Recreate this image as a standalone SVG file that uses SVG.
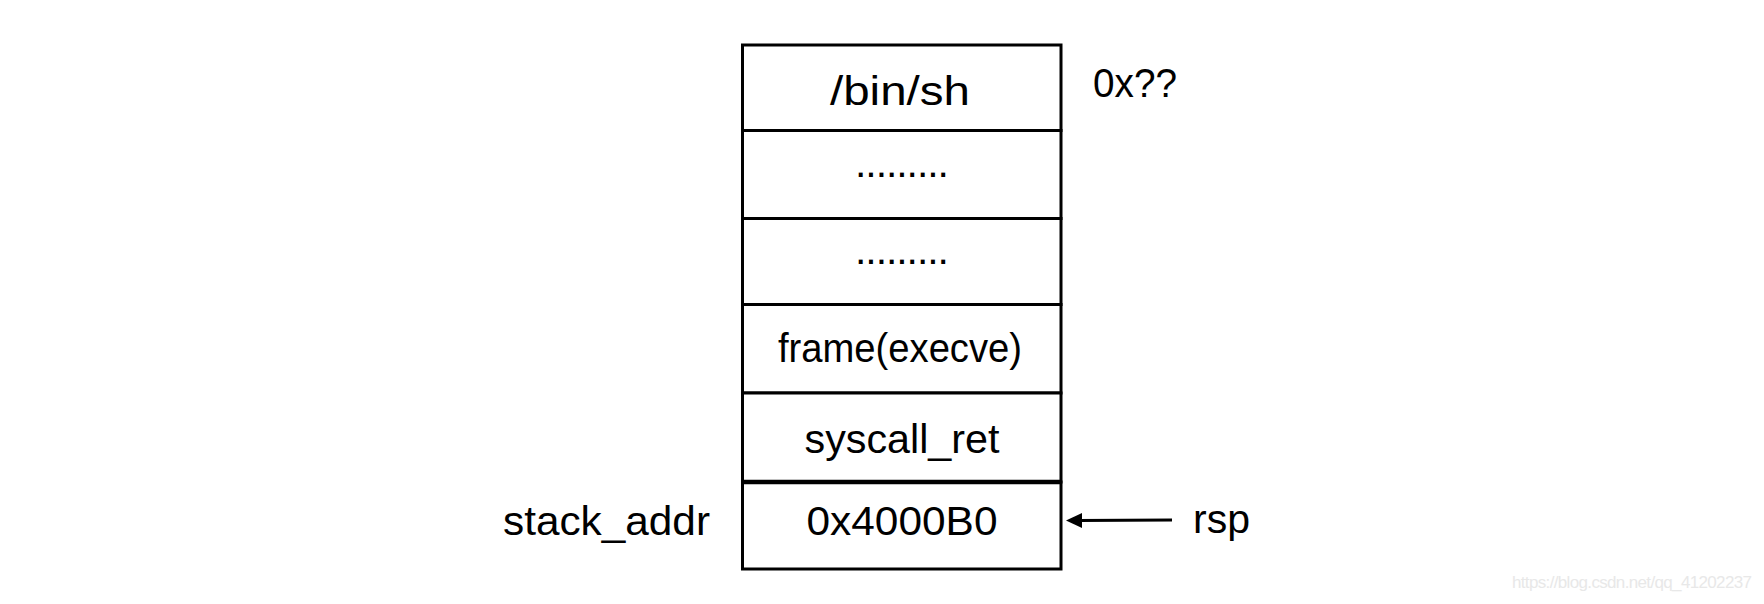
<svg xmlns="http://www.w3.org/2000/svg" width="1764" height="604" viewBox="0 0 1764 604">
<style>
.cell{fill:#fff;stroke:#000;stroke-width:3}
.t{font-family:"Liberation Sans",Arial,sans-serif;font-size:41px;fill:#000}
.c{text-anchor:middle}
.wm{font-family:"Liberation Sans",Arial,sans-serif;font-size:17px;fill:#e8e8e8}
</style>
<rect width="1764" height="604" fill="#fff"/>
<g id="cell-binsh"><rect class="cell" x="742.5" y="45" width="318.5" height="85.5"/><text class="t c" x="900" y="105" textLength="140" lengthAdjust="spacingAndGlyphs">/bin/sh</text></g>
<g id="cell-dots1"><rect class="cell" x="742.5" y="130.5" width="318.5" height="88"/><text class="t c" x="902" y="177" textLength="94">.........</text></g>
<g id="cell-dots2"><rect class="cell" x="742.5" y="218.5" width="318.5" height="86"/><text class="t c" x="902" y="264" textLength="94">.........</text></g>
<g id="cell-frame"><rect class="cell" x="742.5" y="304.5" width="318.5" height="88.5"/><text class="t c" x="900" y="362" textLength="244" lengthAdjust="spacingAndGlyphs">frame(execve)</text></g>
<g id="cell-syscall"><rect class="cell" x="742.5" y="393" width="318.5" height="89"/><text class="t c" x="902" y="453" textLength="195" lengthAdjust="spacingAndGlyphs">syscall_ret</text></g>
<g id="cell-addr"><rect class="cell" x="742.5" y="482" width="318.5" height="87"/><line x1="742.5" y1="482" x2="1061" y2="482" stroke="#000" stroke-width="4.5"/><text class="t c" x="902" y="535" textLength="191" lengthAdjust="spacingAndGlyphs">0x4000B0</text></g>
<g id="label-0x"><text class="t" x="1093" y="97" textLength="84" lengthAdjust="spacingAndGlyphs">0x??</text></g>
<g id="label-stack"><text class="t" x="503" y="535" textLength="207" lengthAdjust="spacingAndGlyphs">stack_addr</text></g>
<g id="label-rsp"><text class="t" x="1193" y="533" textLength="57" lengthAdjust="spacingAndGlyphs">rsp</text></g>
<g id="connectors"><line x1="1172" y1="520" x2="1078" y2="520.5" stroke="#000" stroke-width="3"/><path d="M1066,520.5 L1082,513 L1082,528 Z" fill="#000"/></g>
<text class="wm" x="1512" y="588" textLength="240">https://blog.csdn.net/qq_41202237</text>
</svg>
